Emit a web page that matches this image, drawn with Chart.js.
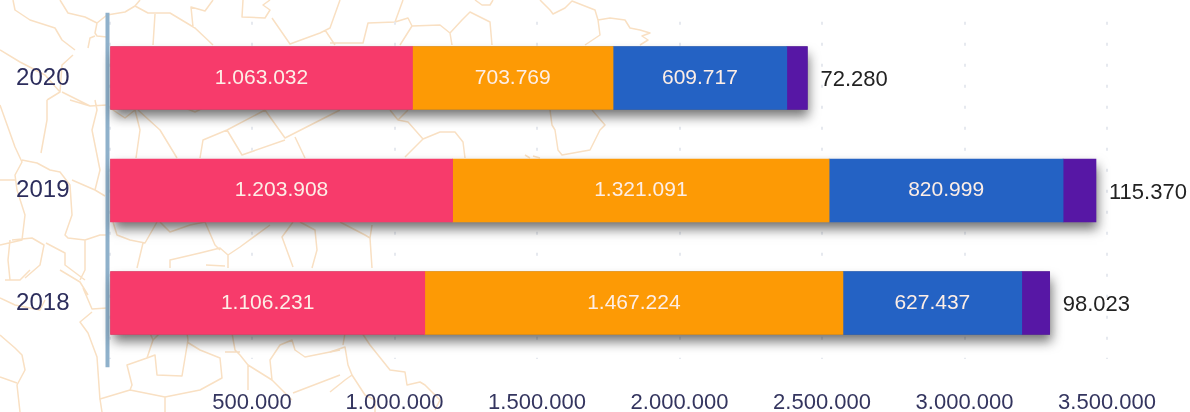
<!DOCTYPE html>
<html>
<head>
<meta charset="utf-8">
<title>Chart</title>
<script src="https://cdn.jsdelivr.net/npm/chart.js@4/dist/chart.umd.min.js"></script>
<style>
  html,body{margin:0;padding:0;background:#fff;overflow:hidden}
  #wrap{position:relative;width:1190px;height:412px}
  #map,#chart{position:absolute;left:0;top:0}
  #map path{fill:none;stroke:#f9e0c3;stroke-width:1.5;stroke-linejoin:round}
</style>
</head>
<body>
<div id="wrap">
  <!-- faint map behind the chart, only decoration -->
  <svg id="map" width="1190" height="412">
    <path d="M13 0L15 10L30 20L55 28L62 40L75 50M60 0L68 13L85 17L97 23L107 15L125 12L135 6L148 13L170 13L195 28L213 45M135 6L140 0M97 23L95 33L97 36L107 37M95 36L90 38L88 48M155 14L153 45M193 27L191 7L205 11L213 0"/>
    <path d="M243 0L242 17L265 18L270 10L263 5L270 0M272 18L290 44L320 33L330 28L340 0M325 30L335 45M330 43L363 43L368 23L395 22L408 18L412 26L440 25L450 33L462 20L470 12L490 22L492 45M395 22L403 0M412 26L400 45M450 33L452 45M475 0L482 5L490 5L493 0M540 0L550 10L553 14L565 8L572 1L595 10L598 20L600 35L585 45M598 20L610 18L625 20L630 28L640 30L650 33L642 36L648 40L640 45"/>
    <path d="M47 100L47 120L41 153M0 105L15 147L22 162L15 175L17 190L25 215L22 240L0 245M22 160L37 163L50 170L60 172L70 185L72 215L65 235L68 238L85 240L100 235L107 235M72 180L95 190L105 196M95 190L100 170L92 130L97 110L95 100M70 100L90 106L107 105M0 180L15 180M12 240L32 238L44 245L40 265L25 278M10 240L8 260L10 280M46 243L65 253L65 265L85 280M85 240L85 270L80 280M0 50L20 62L45 75L60 92L47 100M73 55L62 65L60 92M62 92L90 106"/>
    <path d="M110 108L125 118L135 110L140 130L136 158M138 110L160 130L177 158M185 108L195 112L205 107M200 158L203 140L227 130L265 110L285 138L340 110M227 130L242 155L285 140M295 137L305 158M398 120L390 110M398 120L408 110M398 120L408 122L423 139L405 157M423 139L440 132L455 132L463 142L465 158M550 110L552 125L555 130L558 150L562 155L590 150L600 130L605 125L592 110M525 155L530 158M540 158L533 156"/>
    <path d="M113 222L117 235L130 240L145 243L157 222M143 243L137 268M160 222L170 232L190 225L205 222L215 245L220 250M170 268L170 260L200 253L220 248L228 255L240 247L270 225M228 255L228 268M206 265L225 266M293 222L282 237L293 267M300 222L315 230L317 250L312 268M340 222L365 235L370 238L372 225M370 238L372 268"/>
    <path d="M150 333L153 340L147 358L127 365L132 385L130 390L100 399L102 412M153 340L160 333M147 358L155 355L157 375L182 376L188 340L187 333M187 342L200 350L220 358L222 378L200 390L165 397L130 390M165 397L165 412M232 333L235 350L240 355L248 365L248 390M225 352L240 352M248 365L272 380M272 380L270 360L280 345L292 340L295 350L305 357L340 350M272 380L292 400M293 393L340 375M0 335L15 348L22 355L25 370L17 385L20 412M0 377L17 383M83 288L92 309L107 308M92 312L80 322L88 333L97 357L100 400M0 298L15 305L40 310L45 300M30 270L20 280L5 280M60 270L80 282L88 295"/>
    <path d="M330 352L345 347L348 365L352 375L345 380L330 392M345 333L343 345M362 333L370 345L390 370L405 372L407 385L420 382L425 385L440 400L435 410M352 375L365 395L375 400L375 412"/>
  </svg>
  <canvas id="chart" width="1190" height="412"></canvas>
</div>
<script>
  const years = ['2020','2019','2018'];
  const series1 = [1063032,1203908,1106231];
  const series2 = [703769,1321091,1467224];
  const series3 = [609717,820999,627437];
  const series4 = [72280,115370,98023];
  const label1 = ['1.063.032','1.203.908','1.106.231'];
  const label2 = ['703.769','1.321.091','1.467.224'];
  const label3 = ['609.717','820.999','627.437'];
  const label4 = ['72.280','115.370','98.023'];
  const xTicks = ['','500.000','1.000.000','1.500.000','2.000.000','2.500.000','3.000.000','3.500.000'];
  const colors = ['#f73b6b','#fd9a05','#2462c4','#5717a5'];
  const labels = [label1,label2,label3,label4];

  // axis line and the soft shadow under each whole bar
  const behindBars = {
    id:'behindBars',
    beforeDatasetsDraw(chart){
      const c = chart.ctx, a = chart.chartArea;
      c.save();
      c.strokeStyle = '#8fb1cb';
      c.lineWidth = 4;
      c.beginPath();
      c.moveTo(a.left-2, a.top-9);
      c.lineTo(a.left-2, a.bottom+8);
      c.stroke();
      const first = chart.getDatasetMeta(0).data;
      const last = chart.getDatasetMeta(3).data;
      c.shadowColor = 'rgba(20,20,20,0.6)';
      c.shadowBlur = 11;
      c.shadowOffsetX = 2;
      c.shadowOffsetY = 7;
      c.fillStyle = '#555';
      first.forEach((b,i)=>{
        c.fillRect(b.base, b.y-b.height/2, last[i].x-b.base, b.height);
      });
      c.restore();
    }
  };

  // value labels, the last series sits outside the bar
  const valueLabels = {
    id:'valueLabels',
    afterDatasetsDraw(chart){
      const c = chart.ctx;
      c.save();
      c.textBaseline = 'middle';
      labels.forEach((list,d)=>{
        chart.getDatasetMeta(d).data.forEach((b,i)=>{
          if(d===3){
            c.font = '22px "Liberation Sans"';
            c.fillStyle = '#222';
            c.textAlign = 'left';
            c.fillText(list[i], b.x+13, b.y+2);
          }else{
            c.font = '21px "Liberation Sans"';
            c.fillStyle = '#fdeee6';
            c.textAlign = 'center';
            c.fillText(list[i], (b.x+b.base)/2, b.y);
          }
        });
      });
      c.restore();
    }
  };

  new Chart(document.getElementById('chart').getContext('2d'), {
    type:'bar',
    data:{
      labels:years,
      datasets:[series1,series2,series3,series4].map((s,i)=>({
        data:s, backgroundColor:colors[i], borderWidth:0, barThickness:63
      }))
    },
    options:{
      indexAxis:'y',
      responsive:false,
      animation:false,
      layout:{padding:{top:21.75,right:83}},
      plugins:{legend:{display:false},tooltip:{enabled:false}},
      scales:{
        x:{
          stacked:true,
          min:0,
          max:3500000,
          afterFit(s){ s.height = 52.75; },
          border:{display:false,dash:[3,18]},
          grid:{color:'#e6e9ef',lineWidth:2,drawTicks:false},
          ticks:{
            stepSize:500000,
            padding:30,
            maxRotation:0,
            autoSkip:false,
            color:'#34355f',
            font:{family:'"Liberation Sans"',size:22},
            callback(v){ return xTicks[v/500000]; }
          }
        },
        y:{
          stacked:true,
          afterFit(s){ s.width = 109.5; s.paddingTop = 0; s.paddingBottom = 0; },
          border:{display:false},
          grid:{display:false},
          ticks:{
            padding:32,
            color:'#2c2d5c',
            font:{family:'"Liberation Sans"',size:24}
          }
        }
      }
    },
    plugins:[behindBars,valueLabels]
  });
</script>
</body>
</html>
